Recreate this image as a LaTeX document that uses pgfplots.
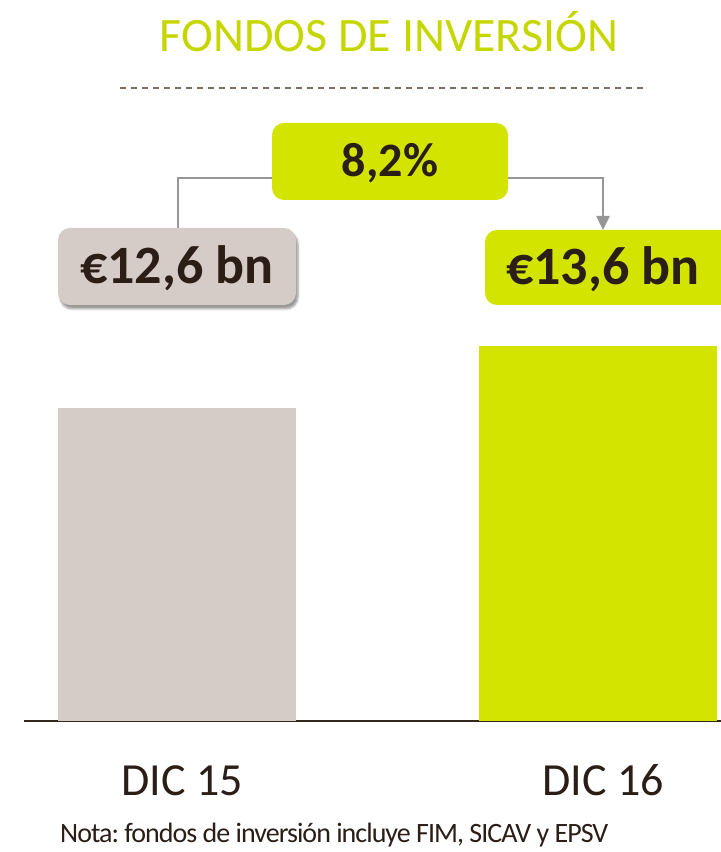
\documentclass[border=0pt]{standalone}
\usepackage{fontspec}
\setmainfont{Carlito}
\usepackage{pgfplots}
\pgfplotsset{compat=1.18}
\usetikzlibrary{shadows.blur,arrows.meta}
\definecolor{limeg}{RGB}{211,228,0}
\definecolor{titleg}{RGB}{198,214,0}
\definecolor{beige}{RGB}{214,204,199}
\definecolor{txtdk}{RGB}{42,30,22}
\definecolor{axisdk}{RGB}{52,40,30}
\definecolor{dashc}{RGB}{125,110,95}
\definecolor{connc}{RGB}{150,150,150}
\newcommand\fs[1]{\fontsize{#1bp}{#1bp}\selectfont}

\begin{document}
\frenchspacing
\begin{tikzpicture}
\begin{axis}[
  name=ax,
  scale only axis, width=697bp, height=721bp,
  xmin=24, xmax=721, ymin=7.54, ymax=19.19,
  axis y line=none, axis x line=bottom,
  axis line style={-, line width=2.5bp, draw=axisdk},
  xtick={177,598}, xticklabels={DIC 15,DIC 16},
  major tick length=0pt,
  xticklabel style={anchor=base, xshift=5bp, yshift=-74bp, font=\fs{46}, text=txtdk},
  ybar, bar width=238bp,
]
  \addplot[fill=beige, draw=none, bar shift=0pt] coordinates {(177,12.6)};
  \addplot[fill=limeg, draw=none, bar shift=0pt] coordinates {(598,13.6)};
\end{axis}

% annotations in reference pixel coordinates (origin top left)
\begin{scope}[shift={(ax.south west)}, xshift=-24bp, yshift=721bp, x=1bp, y=-1bp]
% title and rule
\node[anchor=base, font=\fs{48}, text=titleg] at (389,52) {FONDOS DE INVERSIÓN};
\draw[dashc, line width=2bp, dash pattern=on 6bp off 5bp] (120,88) -- (648,88);

% connector
\draw[connc, line width=2.5bp] (272,178) -| (178,228);
\draw[connc, line width=2.5bp, -{Triangle[length=14bp,width=13bp]}] (508,178) -| (603,230);

% change box
\fill[limeg, rounded corners=12bp] (272,123) rectangle (508,200);
\node[anchor=base, font=\fs{48}\bfseries, text=txtdk] at (390,177) {8,2\%};

% value boxes
\path[fill=beige, rounded corners=12bp,
      blur shadow={shadow xshift=2bp, shadow yshift=-4bp, shadow blur steps=6}]
  (58,228) rectangle (296,305);
\node[anchor=base, font=\fs{54}\bfseries, text=txtdk] at (177,284) {€12,6 bn};
\fill[limeg, rounded corners=12bp] (485,230) rectangle (735,305);
\node[anchor=base, font=\fs{54}\bfseries, text=txtdk] at (603,285) {€13,6 bn};

% note
\node[anchor=base west, inner sep=0pt, font=\fs{28}\addfontfeatures{LetterSpace=-3.5}, text=txtdk] at (60,842)
  {Nota: fondos de inversión incluye FIM, SICAV y EPSV};

\pgfresetboundingbox
\path[use as bounding box] (0,0) rectangle (721,852);
\end{scope}
\end{tikzpicture}
\end{document}
